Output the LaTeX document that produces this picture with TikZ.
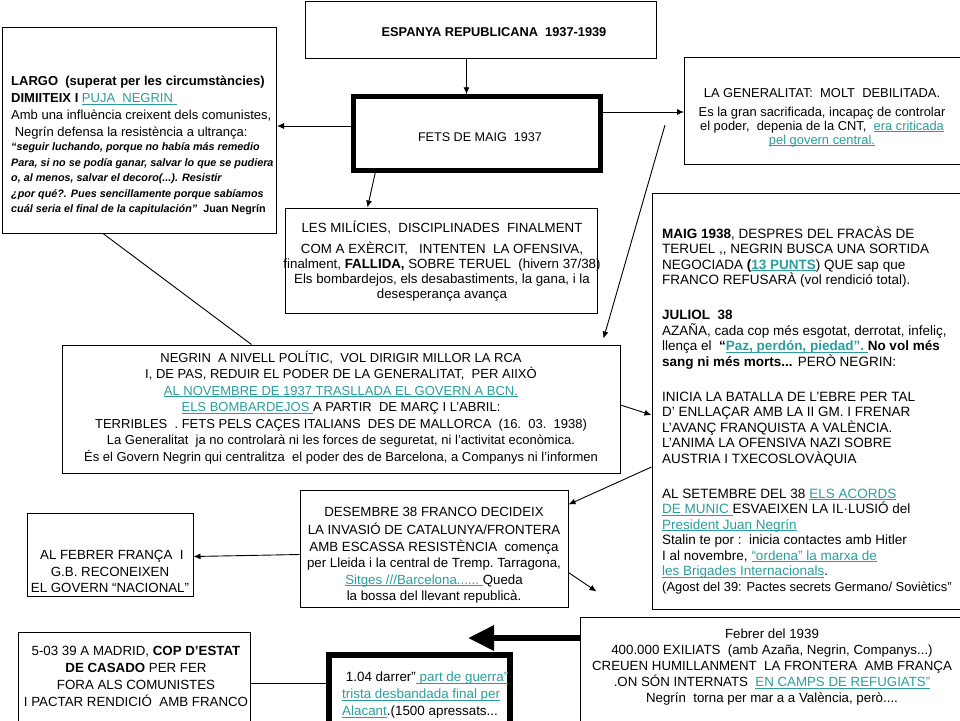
\documentclass[tikz,border=0pt]{standalone}
\usepackage{fontspec}
\setmainfont{Liberation Sans}
\usepackage{xcolor}
\usepackage{tikz}
\usetikzlibrary{arrows.meta,calc}
\definecolor{linkc}{HTML}{2A9D9D}
\newcommand{\lnk}[1]{\textcolor{linkc}{\setbox0\hbox{#1}\rlap{\rule[-1.8pt]{\wd0}{0.7pt}}\box0}}

\begin{document}
\begin{tikzpicture}[x=1pt,y=-1pt,
  box/.style={draw,line width=1pt,inner sep=0pt},
  txt/.style={inner sep=0pt,font=\fontsize{13.3}{16}\selectfont},
  arr/.style={line width=0.9pt,-{Latex[length=7pt,width=6pt]}},
  lne/.style={line width=0.9pt},
  fat/.style={line width=6pt,-{Triangle[length=26pt,width=24pt]}}]
\useasboundingbox (0,0) rectangle (960,720);
% boxes
\node[box,minimum width=351pt,minimum height=57pt] (title) at (480.5,29.5) {};
\node[box,line width=4.5pt,minimum width=247pt,minimum height=74pt] (fets) at (477,133.5) {};
\node[box,minimum width=274pt,minimum height=206pt] (largo) at (139.5,130) {};
\node[box,minimum width=277pt,minimum height=107pt] (gen) at (823,110.5) {};
\node[box,minimum width=312pt,minimum height=105pt] (mil) at (441,260.5) {};
\node[box,minimum width=310pt,minimum height=416pt] (maig) at (807,401) {};
\node[box,minimum width=558pt,minimum height=128pt] (negrin) at (341,409) {};
\node[box,minimum width=268pt,minimum height=117pt] (desembre) at (434,548.5) {};
\node[box,minimum width=166pt,minimum height=83pt] (febr) at (110,554.5) {};
\node[box,minimum width=232pt,minimum height=96pt] (casado) at (134,680) {};
\node[box,line width=6pt,minimum width=181pt,minimum height=73pt] (darrer) at (419.5,691.5) {};
\node[box,minimum width=383pt,minimum height=111pt] (febrer) at (771.5,672.5) {};
% texts
\node[txt,font=\fontsize{12.8}{15}\selectfont\bfseries] (titleT) at (494,32.5) {ESPANYA REPUBLICANA\ \ 1937-1939};
\node[txt,font=\fontsize{12.6}{15}\selectfont] (fetsT) at (480,137) {FETS DE MAIG\ \ 1937};
\node[txt,anchor=west,align=left,font=\fontsize{13}{17}\selectfont] (largoT) at (11,108) {\textbf{LARGO\ \ (superat\ per les circumstàncies)}\\
  \textbf{DIMIITEIX I} \lnk{PUJA\ \ NEGRIN\ }\\
  Amb una influència creixent dels comunistes,\\
  \ Negrín\ defensa la resistència a ultrança:};
\node[txt,anchor=west,align=left,font=\fontsize{10.8}{15.5}\selectfont\bfseries\itshape] (largoQ) at (11,179) {“seguir luchando, porque no había más remedio\\
  Para, si no se podía ganar, salvar lo que se pudiera\\
  o, al menos, salvar el decoro(...). Resistir\\
  ¿por qué?. Pues sencillamente porque sabíamos\\
  cuál seria el final de la capitulación”\ \ {\upshape Juan Negrín}};
\node[txt,align=center,font=\fontsize{12.9}{14}\selectfont] (genT) at (822,117.5) {LA GENERALITAT:\ \ MOLT\ \ DEBILITADA.\\[5pt]
  Es la gran sacrificada, incapaç de controlar\\
  el poder,\ \ depenia de la CNT,\ \ \lnk{era criticada}\\
  \lnk{pel govern central.}};
\node[txt,align=center,font=\fontsize{13.3}{15}\selectfont] (milT) at (442,261) {LES MILÍCIES,\ \ DISCIPLINADES\ \ FINALMENT\\[6pt]
  COM A EXÈRCIT,\ \ \ INTENTEN\ \ LA OFENSIVA,\\
  finalment, \textbf{FALLIDA,} SOBRE TERUEL\ \ (hivern 37/38)\\
  Els bombardejos, els desabastiments, la gana, i la\\
  desesperança avança};
\node[txt,anchor=west,align=left,font=\fontsize{13.5}{15.5}\selectfont] (maigT) at (662,410) {\textbf{MAIG 1938}, DESPRES DEL FRACÀS DE\\
  TERUEL\ ,{},\ NEGRIN\ BUSCA UNA SORTIDA\\
  NEGOCIADA \textbf{(}\lnk{\textbf{13 PUNTS}})\ QUE sap que\\
  FRANCO\ REFUSARÀ (vol rendició total).\\[19.5pt]
  \textbf{JULIOL\ \ 38}\\
  AZAÑA, cada cop més esgotat, derrotat, infeliç,\\
  llença el\ \ \textbf{“\lnk{Paz, perdón, piedad”.\ }No vol més}\\
  \textbf{sang ni més morts...} PERÒ NEGRIN:\\[19.5pt]
  INICIA\ LA BATALLA DE L’EBRE PER TAL\\
  D’ ENLLAÇAR AMB LA II GM. I FRENAR\\
  L’AVANÇ FRANQUISTA\ A VALÈNCIA.\\
  L’ANIMA LA OFENSIVA NAZI SOBRE\\
  AUSTRIA\ I TXECOSLOVÀQUIA\\[19.5pt]
  AL SETEMBRE DEL 38 \lnk{ELS ACORDS}\\
  \lnk{DE MUNIC\ }ESVAEIXEN LA IL·LUSIÓ\ del\\
  \lnk{President Juan Negrín}\\
  Stalin te por :\ \ inicia contactes amb Hitler\\
  I al novembre, \lnk{“ordena” la marxa de}\\
  \lnk{les Brigades Internacionals}.\\
  {\fontsize{12.9}{15.5}\selectfont(Agost del 39: Pactes secrets Germano/ Soviètics”}};
\node[txt,align=center,font=\fontsize{13}{16.5}\selectfont] (negrinT) at (341,407.5) {NEGRIN\ \ A NIVELL POLÍTIC,\ \ VOL DIRIGIR\ MILLOR\ LA RCA\\
  I, DE PAS, REDUIR EL PODER DE LA GENERALITAT,\ \ PER AIIXÒ\\
  \lnk{AL NOVEMBRE DE 1937 TRASLLADA EL GOVERN A BCN.}\\
  \lnk{ELS BOMBARDEJOS\ }A PARTIR\ \ DE MARÇ I L’ABRIL:\\
  TERRIBLES\ \ . FETS PELS CAÇES ITALIANS\ \ DES DE MALLORCA\ \ (16.\ \ 03.\ \ 1938)\\
  La Generalitat\ \ ja no controlarà ni les forces de seguretat, ni l’activitat econòmica.\\
  És el Govern Negrin qui centralitza\ \ el poder des de Barcelona, a Companys ni l’informen};
\node[txt,align=center,font=\fontsize{13.3}{16.5}\selectfont] (desembreT) at (434,555) {DESEMBRE 38 FRANCO\ DECIDEIX\\[2pt]
  LA INVASIÓ DE CATALUNYA/FRONTERA\\
  AMB ESCASSA RESISTÈNCIA\ \ comença\\
  per Lleida i la central\ de Tremp.\ Tarragona,\\
  \lnk{Sitges ///Barcelona......\ }Queda\\
  la bossa del llevant republicà.};
\node[txt,align=center,font=\fontsize{13.3}{16.5}\selectfont] (febrT) at (110,571.5) {\ AL FEBRER FRANÇA\ \ I\\
  G.B. RECONEIXEN\\
  EL GOVERN “NACIONAL”};
\node[txt,align=center,font=\fontsize{13.3}{17}\selectfont] (casadoT) at (136,676.5) {5-03 39 A MADRID, \textbf{COP D’ESTAT}\\
  \textbf{DE CASADO}\ PER FER\\
  FORA ALS COMUNISTES\\
  I PACTAR\ RENDICIÓ\ \ AMB FRANCO};
\node[txt,anchor=west,align=left,font=\fontsize{13.4}{17}\selectfont] (darrerT) at (342,695.5) {\ 1.04 darrer”\lnk{\ part de guerra”}\\
  \lnk{trista desbandada final per}\\
  \lnk{Alacant}.(1500 apressats...};
\node[txt,align=center] (febrerT) at (772,667) {Febrer del 1939\\
  400.000 EXILIATS\ \ (amb Azaña,\ Negrin,\ Companys...)\\
  CREUEN\ HUMILLANMENT\ \ LA FRONTERA\ \ AMB FRANÇA\\
  .ON SÓN INTERNATS\ \ \lnk{EN CAMPS DE REFUGIATS”}\\
  Negrín\ \ torna per mar a a València,\ però....};
% connectors
\coordinate (genfoot) at (665,125);
\coordinate (fattip) at (468,638);
\draw[arr] ([xshift=-14pt]title.south) -- ([xshift=-14pt]title.south |- fets.north);
\draw[arr] ([yshift=7.5pt]fets.west) -- ([yshift=7.5pt]fets.west -| largo.east);
\draw[arr] ([yshift=21.5pt]fets.east) -- ([yshift=21.5pt]fets.east -| gen.west);
\draw[arr] ([xshift=24pt]fets.south west) -- ([xshift=83pt]mil.north west);
\draw[arr] (genfoot) -- ([xshift=-17pt,yshift=6pt]negrin.north east);
\draw[lne] ([xshift=101pt]largo.south west) -- ([xshift=190pt]negrin.north west);
\draw[arr] ([yshift=4pt]negrin.east) -- ([yshift=-14pt]maig.west);
\draw[arr] ([yshift=-66pt]maig.west) -- ([yshift=44pt]desembre.east);
\draw[arr] ([yshift=-6pt]desembre.west) -- ([yshift=-2pt]febr.east);
\draw[arr] ([yshift=-24pt]desembre.east) -- ([xshift=17pt,yshift=25pt]febrer.north west);
\draw[fat] ([yshift=34.5pt]febrer.west) -- (fattip);
\draw[lne] ([yshift=-3pt]casado.east) -- ([yshift=-3pt]casado.east -| darrer.west);
\end{tikzpicture}
\end{document}
